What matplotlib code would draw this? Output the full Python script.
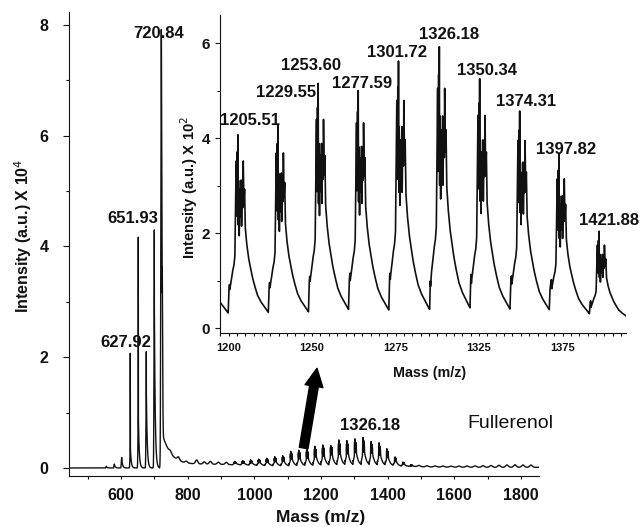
import numpy as np
import matplotlib
matplotlib.use('Agg')
import matplotlib.pyplot as plt
from matplotlib.ticker import MultipleLocator, FixedLocator, FixedFormatter

plt.rcParams['font.family'] = ['Liberation Sans', 'DejaVu Sans']

# ---------------- data ----------------
# main spectrum (intensity x 10^4)
low_mass = [556.0, 580.0, 602.0, 628.0, 652.0, 676.0, 700.0]
low_height = [0.03, 0.07, 0.19, 0.39, 1.00, 1.47, 3.13]
spike_mass = [627.92, 651.93, 676.0, 700.0, 720.84]
spike_height = [2.10, 4.30, 2.10, 4.30, 7.65]
base_peak_mass = [720.84, 723.6]
base_peak_height = [7.60, 2.75]
mid_mass = [748.0, 772.0, 796.0, 827.0, 850.0, 868.0, 892.0, 916.0]
mid_height = [0.04, 0.06, 0.03, 0.07, 0.04, 0.05, 0.04, 0.04]
cluster_mass = [941.1, 965.1, 989.2, 1013.2, 1037.2, 1061.3, 1085.3, 1109.4,
                1133.4, 1157.4, 1181.5, 1205.51, 1229.55, 1253.60, 1277.59,
                1301.72, 1326.18, 1350.34, 1374.31, 1397.82, 1421.88, 1446.0,
                1470.0]
cluster_height = [0.06, 0.08, 0.10, 0.12, 0.14, 0.17, 0.19, 0.27, 0.29, 0.31,
                  0.36, 0.39, 0.41, 0.47, 0.47, 0.51, 0.54, 0.48, 0.43, 0.33,
                  0.18, 0.08, 0.035]
ripple_mass = [1494, 1518, 1542, 1566, 1590, 1614, 1638, 1662, 1686, 1710,
               1734, 1758, 1782, 1806, 1830]
ripple_height = [0.025, 0.02, 0.018, 0.018, 0.018, 0.02, 0.022, 0.025, 0.028,
                 0.032, 0.036, 0.042, 0.045, 0.042, 0.04]
main_labels = ['720.84', '651.93', '627.92', '1326.18']
main_label_x = [714, 636, 615, 1347]
main_label_y = [7.85, 4.51, 2.27, 0.76]

# inset spectrum (intensity x 10^2)
inset_mass = [1181.47, 1205.51, 1229.55, 1253.60, 1277.59, 1301.72, 1326.18,
              1350.34, 1374.31, 1397.82, 1421.88]
inset_height = [3.8, 4.05, 4.25, 5.05, 5.00, 5.52, 5.82, 5.15, 4.56, 3.58, 1.94]
inset_labels = ['1205.51', '1229.55', '1253.60', '1277.59', '1301.72',
                '1326.18', '1350.34', '1374.31', '1397.82', '1421.88']
inset_label_x = [1212.9, 1234.4, 1249.4, 1279.9, 1300.9, 1332.0, 1354.8,
                 1378.1, 1402.1, 1427.8]
inset_label_y = [4.38, 4.95, 5.52, 5.15, 5.80, 6.19, 5.43, 4.76, 3.75, 2.27]
inset_tick_pos = [1200, 1250, 1300, 1350, 1400]
inset_tick_labels = ['1200', '1250', '1275', '1325', '1375']
# shape of one isotope cluster, read off the 1301.72 cluster
# (offset from the labelled mass in m/z, fraction of the cluster maximum)
shape_offset = [-5.8, -5.4, -4.8, -4.0, -3.2, -2.4, -1.8, -1.4, -1.0, -0.8,
                -0.4, -0.2, 0.0, 0.2, 0.4, 0.8, 1.2, 1.6, 2.0, 2.2, 2.6, 3.0,
                3.2, 3.6, 4.0, 4.4, 5.2, 6.4, 7.6, 8.6, 9.6, 11.6, 13.6, 15.6,
                17.6, 19.0, 19.2]
shape_frac = [0.0, 0.12, 0.18, 0.22, 0.27, 0.30, 0.35, 0.63, 0.85, 0.55,
              0.90, 0.60, 1.00, 0.50, 0.75, 0.45, 0.70, 0.55, 0.75, 0.50, 0.72,
              0.60, 0.85, 0.62, 0.70, 0.50, 0.42, 0.34, 0.29, 0.245, 0.21,
              0.15, 0.115, 0.09, 0.065, 0.05, 0.0]


# ---------------- line shapes ----------------
def gauss(x, c, h, s):
    return h * np.exp(-0.5 * ((x - c) / s) ** 2)


def edge(x, c, w):
    return 1.0 / (1.0 + np.exp(-(x - c) / w))


def cluster(x, L, H):
    return np.interp(x, [L + o for o in shape_offset],
                     [f * H for f in shape_frac], left=0.0, right=0.0)


def tailed(x, c, h, rise, tau, length):
    y = np.where(x < c, gauss(x, c, h, rise), h * np.exp(-(x - c) / tau))
    y[(x > c + length) | (x < c - 5 * rise)] = 0.0
    return y


xm = np.arange(445.0, 1854.0, 0.1)
bg = (0.055 * np.exp(-0.5 * ((xm - 860) / 120) ** 2)
      + 0.025 * np.exp(-0.5 * ((xm - 1290) / 150) ** 2) + 0.012)
ym = bg * edge(xm, 728, 3.0)
for c, h in zip(low_mass, low_height):
    ym += tailed(xm, c, h, 1.0, 2.5, 15)
for c, h in zip(base_peak_mass, base_peak_height):
    ym += gauss(xm, c, h, 1.3)
ym += np.where(xm > 724, 0.6 * np.exp(-(xm - 724) / 25.0), 0.0)
for c, h in zip(mid_mass, mid_height):
    ym += gauss(xm, c, h, 3.5)
for c, h in zip(cluster_mass, cluster_height):
    ym += cluster(xm, c, h)
for c, h in zip(ripple_mass, ripple_height):
    ym += gauss(xm, c, h, 4.0)
for c, h in zip(spike_mass, spike_height):
    ym = np.maximum(ym, gauss(xm, c, h, 0.12))

xi = np.arange(1194.8, 1438.0, 0.02)
yi = np.full_like(xi, 0.1)
for L, H in zip(inset_mass, inset_height):
    yi += cluster(xi, L, H)

# ---------------- figure ----------------
W, Hh = 641, 527
fig = plt.figure(figsize=(W / 100, Hh / 100), dpi=100)
ink = '#111111'

ax = fig.add_axes([69.3 / W, 1 - 476 / Hh, (539 - 69.3) / W, (476 - 12) / Hh])
ax.plot(xm, ym, color=ink, lw=1.0)
ax.set_xlim(445, 1854)
ax.set_ylim(-0.145, 8.235)
for s in ['top', 'right']:
    ax.spines[s].set_visible(False)
for s in ['left', 'bottom']:
    ax.spines[s].set_linewidth(0.8)
    ax.spines[s].set_color(ink)
ax.xaxis.set_major_locator(MultipleLocator(200))
ax.xaxis.set_minor_locator(MultipleLocator(100))
ax.yaxis.set_major_locator(MultipleLocator(2))
ax.yaxis.set_minor_locator(MultipleLocator(1))
ax.tick_params(axis='x', which='both', direction='out', length=2.4, width=0.8,
               pad=6.3, labelsize=11.5, colors=ink)
ax.tick_params(axis='y', which='major', direction='out', length=4.3, width=0.8,
               pad=10.5, labelsize=11.5, colors=ink)
ax.tick_params(axis='y', which='minor', direction='out', length=2.4, width=0.8)
for t in ax.get_xticklabels() + ax.get_yticklabels():
    t.set_fontweight('bold')
ax.set_xlabel('Mass (m/z)', fontsize=12.5, fontweight='bold', color=ink)
ax.xaxis.set_label_coords(0.536, -0.0905)
ax.xaxis.label.set_verticalalignment('center')
ax.set_ylabel('Intensity (a.u.) X 10$^{4}$', fontsize=11.5, fontweight='bold',
              color=ink)
ax.yaxis.set_label_coords(-0.0986, 0.517)
ax.yaxis.label.set_verticalalignment('center')

for t, x, y in zip(main_labels, main_label_x, main_label_y):
    ax.text(x, y, t, ha='center', va='center', fontsize=12, fontweight='bold',
            color=ink)
ax.text(1767, 0.81, 'Fullerenol', ha='center', va='center', fontsize=14,
        color=ink)
ax.annotate('', xy=(1188, 1.80), xytext=(1148, 0.36),
            arrowprops=dict(width=6.3, headwidth=13, headlength=13,
                            facecolor='black', edgecolor='black', shrink=0))

# inset
ai = fig.add_axes([220 / W, 1 - 333 / Hh, (626 - 220) / W, (333 - 15) / Hh])
ai.set_facecolor('none')
ai.plot(xi, yi, color=ink, lw=1.2)
ai.set_xlim(1194.8, 1438)
ai.set_ylim(-0.1, 6.59)
for s in ['top', 'right']:
    ai.spines[s].set_visible(False)
for s in ['left', 'bottom']:
    ai.spines[s].set_linewidth(0.8)
    ai.spines[s].set_color(ink)
ai.xaxis.set_major_locator(FixedLocator(inset_tick_pos))
ai.xaxis.set_major_formatter(FixedFormatter(inset_tick_labels))
ai.xaxis.set_minor_locator(MultipleLocator(5))
ai.yaxis.set_major_locator(MultipleLocator(2))
ai.yaxis.set_minor_locator(MultipleLocator(1))
ai.tick_params(axis='x', which='both', direction='out', length=2.0, width=0.8,
               pad=5, labelsize=8, colors=ink)
ai.tick_params(axis='y', which='major', direction='out', length=3.6, width=0.8,
               pad=3.6, labelsize=11, colors=ink)
ai.tick_params(axis='y', which='minor', direction='out', length=2.4, width=0.8)
for t in ai.get_xticklabels() + ai.get_yticklabels():
    t.set_fontweight('bold')
ai.set_xlabel('Mass (m/z)', fontsize=10.3, fontweight='bold', color=ink)
ai.xaxis.set_label_coords(0.517, -0.126)
ai.xaxis.label.set_verticalalignment('center')
ai.set_ylabel('Intensity (a.u.) X 10$^{2}$', fontsize=10.7, fontweight='bold',
              color=ink)
ai.yaxis.set_label_coords(-0.0764, 0.459)
ai.yaxis.label.set_verticalalignment('center')
for t, x, y in zip(inset_labels, inset_label_x, inset_label_y):
    ai.text(x, y, t, ha='center', va='center', fontsize=12, fontweight='bold',
            color=ink)

fig.savefig('out.png', dpi=100)
